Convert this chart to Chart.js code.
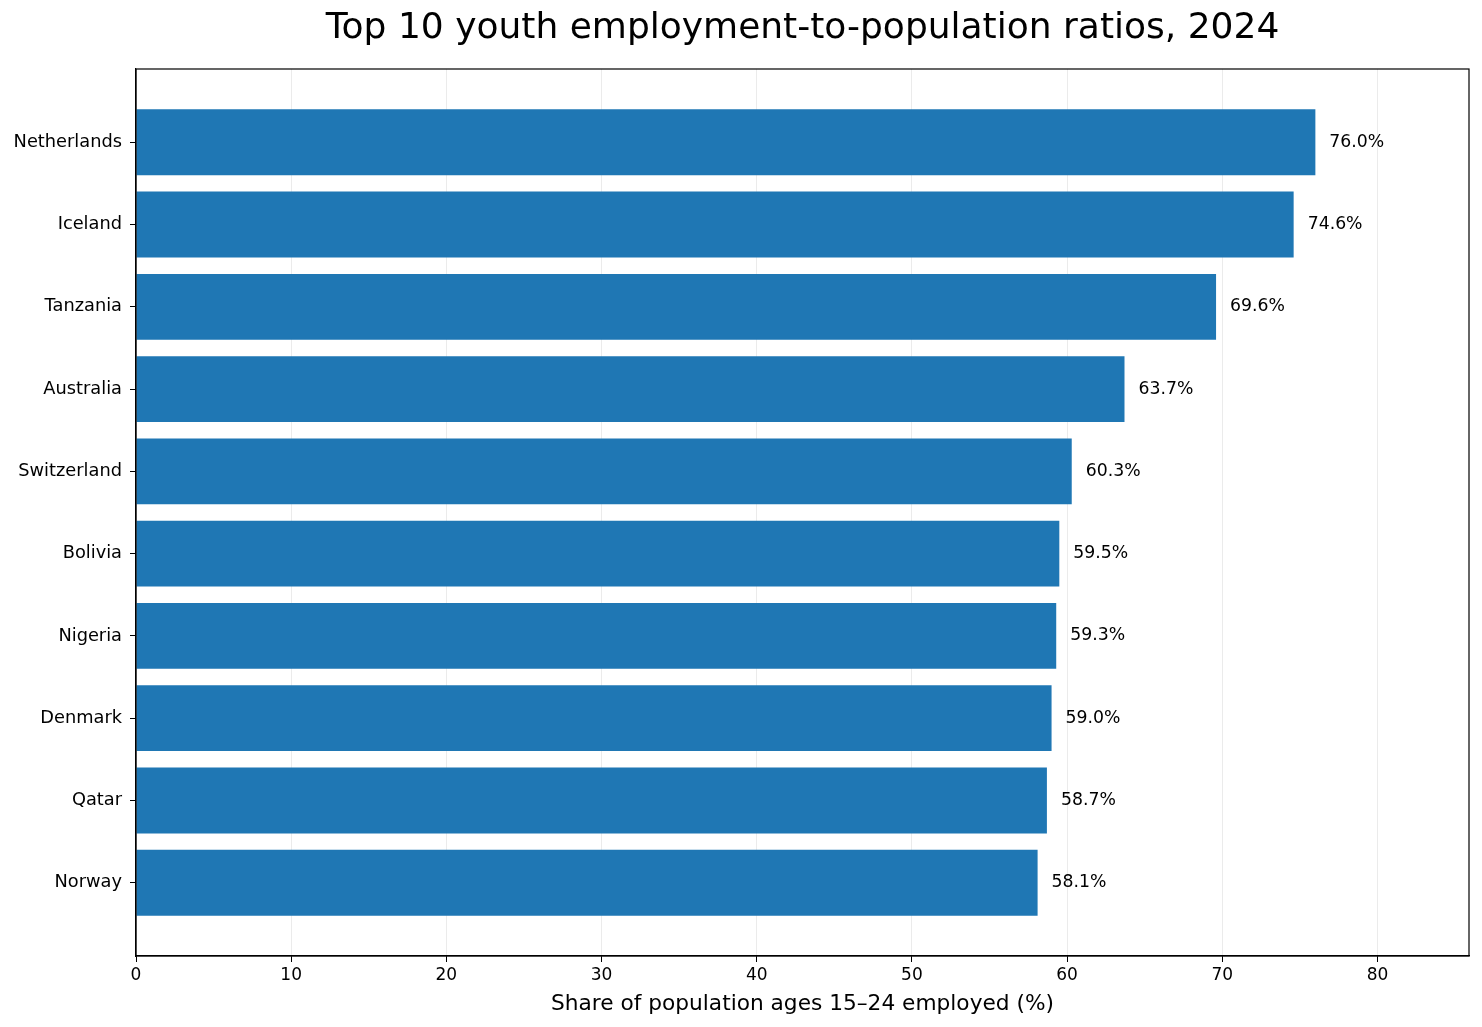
<!DOCTYPE html>
<html>
<head>
  <script src="https://cdn.jsdelivr.net/npm/chart.js"></script>
  <style>
    html, body { margin: 0; padding: 0; background: #fff; }
    #wrap { width: 1482px; height: 1027px; }
  </style>
</head>
<body>
  <div id="wrap"><canvas id="barChart"></canvas></div>
  <script>
    // data
    const countries = ['Netherlands', 'Iceland', 'Tanzania', 'Australia', 'Switzerland',
                       'Bolivia', 'Nigeria', 'Denmark', 'Qatar', 'Norway'];
    const ratios = [76.0, 74.6, 69.6, 63.7, 60.3, 59.5, 59.3, 59.0, 58.7, 58.1];
    const xTicks = [0, 10, 20, 30, 40, 50, 60, 70, 80];
    const titleText = 'Top 10 youth employment-to-population ratios, 2024';

    const FONT = "'DejaVu Sans', sans-serif";

    // title over the plot area, black frame, value labels next to each bar
    const extras = {
      id: 'extras',
      afterDatasetsDraw(chart) {
        const ctx = chart.ctx;
        const a = chart.chartArea;
        const meta = chart.getDatasetMeta(0);
        ctx.save();
        ctx.fillStyle = '#000';
        ctx.font = '17.3px ' + FONT;
        ctx.textAlign = 'left';
        ctx.textBaseline = 'middle';
        meta.data.forEach((bar, i) => {
          ctx.fillText(ratios[i].toFixed(1) + '%', bar.x + 14, bar.y);
        });
        ctx.strokeStyle = '#000';
        ctx.lineWidth = 1.2;
        ctx.strokeRect(a.left, a.top, a.right - a.left, a.bottom - a.top);

        ctx.font = '36px ' + FONT;
        ctx.textAlign = 'center';
        ctx.fillText(titleText, (a.left + a.right) / 2, 29);
        ctx.restore();
      }
    };

    const ctx = document.getElementById('barChart').getContext('2d');
    new Chart(ctx, {
      type: 'bar',
      data: {
        datasets: [{
          data: ratios.map((v, i) => ({ x: v, y: i })),
          backgroundColor: '#1f77b4',
          borderWidth: 0,
          barPercentage: 0.8,
          categoryPercentage: 1.0
        }]
      },
      options: {
        indexAxis: 'y',
        responsive: true,
        maintainAspectRatio: false,
        animation: false,
        layout: { padding: { left: 0, right: 13, top: 69, bottom: 0 } },
        plugins: {
          legend: { display: false },
          tooltip: { enabled: false },
          title: { display: false }
        },
        scales: {
          x: {
            type: 'linear',
            min: 0,
            max: 85.9,
            afterBuildTicks(scale) { scale.ticks = xTicks.map(v => ({ value: v })); },
            afterFit(scale) { scale.height = 71; },
            grid: { color: '#ebebeb', tickColor: '#000', tickLength: 6, lineWidth: 1 },
            border: { color: '#000', width: 1.2 },
            ticks: { color: '#000', font: { family: FONT, size: 17 }, padding: 3, maxRotation: 0 },
            title: {
              display: true,
              text: 'Share of population ages 15–24 employed (%)',
              color: '#000',
              font: { family: FONT, size: 21.7 },
              padding: { top: 0, bottom: 10 }
            }
          },
          y: {
            type: 'linear',
            reverse: true,
            offset: false,
            min: -0.89,
            max: 9.89,
            afterBuildTicks(scale) { scale.ticks = countries.map((c, i) => ({ value: i })); },
            afterFit(scale) { scale.width = 136; },
            grid: { drawOnChartArea: false, offset: false, tickColor: '#000', tickLength: 6 },
            border: { color: '#000', width: 1.2 },
            ticks: {
              color: '#000',
              font: { family: FONT, size: 17.8 },
              padding: 8,
              callback: (v) => countries[v]
            }
          }
        }
      },
      plugins: [extras]
    });
  </script>
</body>
</html>
